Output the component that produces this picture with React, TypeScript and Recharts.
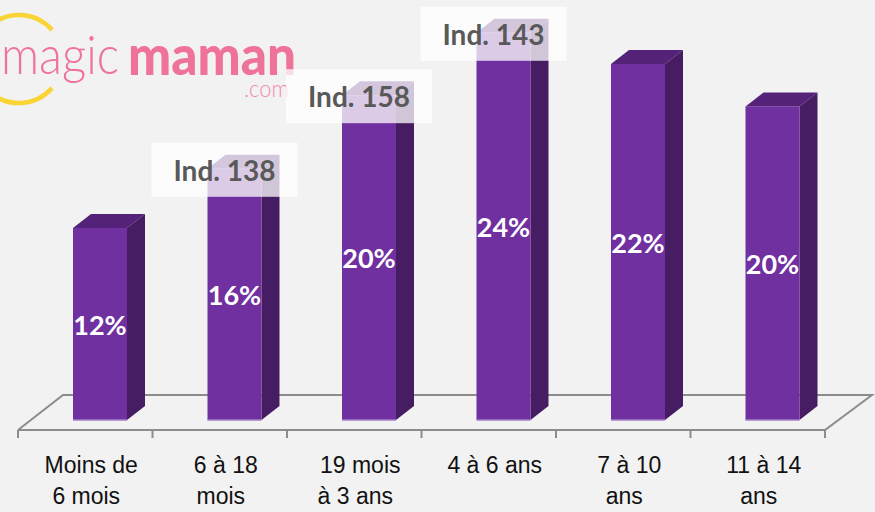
import React from "react";
import { BarChart, Bar, XAxis, YAxis, LabelList } from "recharts";

const labelLine1 = ["Moins de", "6 à 18", "19 mois", "4 à 6 ans", "7 à 10", "11 à 14"];
const labelLine2 = ["6 mois", "mois", "à 3 ans", "", "ans", "ans"];
const shares = [12, 15.7, 20.3, 24.2, 22.25, 19.6];
const shareLabels = ["12%", "16%", "20%", "24%", "22%", "20%"];
const indexLabels = ["", "Ind. 138", "Ind. 158", "Ind. 143", "", ""];

const data = labelLine1.map((l1, i) => ({
  cat: l1,
  l2: labelLine2[i],
  v: shares[i],
  pct: shareLabels[i],
  ind: indexLabels[i],
}));

const W = 875;
const H = 512;
const DX = 18;
const DY = 14;

const Box3D = (props: any) => {
  const { x, y, width, height } = props;
  if (height == null || width == null) return null;
  const x2 = x + width;
  const yb = y + height;
  return (
    <g>
      <polygon
        points={`${x},${y} ${x + DX},${y - DY} ${x2 + DX},${y - DY} ${x2},${y}`}
        fill="#542379"
      />
      <polygon
        points={`${x2},${y} ${x2 + DX},${y - DY} ${x2 + DX},${yb - DY} ${x2},${yb}`}
        fill="#461c63"
      />
      <rect x={x} y={y} width={width} height={height} fill="#7030a0" />
      <line x1={x} y1={yb} x2={x2} y2={yb} stroke="#a27fc4" strokeWidth={1.5} />
    </g>
  );
};

const PctLabel = (props: any) => {
  const { x, y, width, height, value } = props;
  return (
    <text
      x={x + width / 2}
      y={y + height / 2}
      textAnchor="middle"
      dominantBaseline="central"
      fill="#ffffff"
      fontFamily="Lato, 'Open Sans', sans-serif"
      fontWeight={700}
      fontSize={27}
    >
      {value}
    </text>
  );
};

const IndLabel = (props: any) => {
  const { x, y, width, value } = props;
  if (!value) return null;
  const cx = x + width / 2 - 10;
  const cy = y + 1;
  return (
    <g>
      <rect x={cx - 73} y={cy - 27} width={146} height={54} fill="#ffffff" fillOpacity={0.75} />
      <text
        x={cx}
        y={cy}
        textAnchor="middle"
        dominantBaseline="central"
        fill="#595959"
        fontFamily="Lato, 'Open Sans', sans-serif"
        fontWeight={700}
        fontSize={28}
      >
        {value}
      </text>
    </g>
  );
};

const CatTick = (props: any) => {
  const { x, y, payload, index } = props;
  const cx = x - 14;
  return (
    <g>
      <text
        x={cx + 5}
        y={y + 53}
        textAnchor="middle"
        fill="#111111"
        fontFamily="'Liberation Sans', Arial, sans-serif"
        fontSize={23}
      >
        {payload.value}
      </text>
      <text
        x={cx}
        y={y + 84}
        textAnchor="middle"
        fill="#111111"
        fontFamily="'Liberation Sans', Arial, sans-serif"
        fontSize={23}
      >
        {labelLine2[index]}
      </text>
    </g>
  );
};

const Floor = () => {
  const fl = 18;
  const fr = 825;
  const fy = 430;
  const bx = 45;
  const by = 35;
  const step = (fr - fl) / 6;
  const ticks = [0, 1, 2, 3, 4, 5, 6].map((i) => fl + i * step);
  return (
    <svg width={W} height={H} style={{ position: "absolute", left: 0, top: 0 }}>
      <rect x={0} y={0} width={W} height={H} fill="#f2f2f2" />
      {/* logo */}
      <path d="M 52 30 A 44 44 0 1 0 52 88" fill="none" stroke="#f9d434" strokeWidth={4.5} />
      <text
        x={1}
        y={74}
        fill="#ef7399"
        fontFamily="Lato, 'Open Sans', sans-serif"
        fontWeight={300}
        fontSize={54}
        textLength={118}
        lengthAdjust="spacingAndGlyphs"
      >
        magic
      </text>
      <text
        x={128}
        y={75}
        fill="#ef7399"
        fontFamily="Lato, 'Open Sans', sans-serif"
        fontWeight={900}
        fontSize={56}
        textLength={168}
        lengthAdjust="spacingAndGlyphs"
      >
        maman
      </text>
      <text
        x={244}
        y={97}
        fill="#f28aab"
        fontFamily="Lato, 'Open Sans', sans-serif"
        fontWeight={300}
        fontSize={23}
        textLength={45}
        lengthAdjust="spacingAndGlyphs"
      >
        .com
      </text>
      {/* floor */}
      <polyline
        points={`${fl},${fy} ${fl + bx},${fy - by} ${fr + bx + 2},${fy - by} ${fr},${fy} ${fl},${fy}`}
        fill="none"
        stroke="#8c8c8c"
        strokeWidth={2}
      />
      {ticks.map((t, i) => (
        <line key={i} x1={t} y1={fy} x2={t} y2={fy + 8} stroke="#8c8c8c" strokeWidth={2} />
      ))}
    </svg>
  );
};

export default function App() {
  return (
    <div style={{ position: "absolute", left: 0, top: 0, width: W, height: H, background: "#f2f2f2" }}>
      <Floor />
      <div style={{ position: "absolute", left: 0, top: 0 }}>
        <BarChart
          width={W}
          height={H}
          data={data}
          margin={{ top: 20, right: 35, left: 33, bottom: 32 }}
        >
          <XAxis
            dataKey="cat"
            axisLine={false}
            tickLine={false}
            tickSize={0}
            tickMargin={0}
            height={60}
            interval={0}
            tick={<CatTick />}
          />
          <YAxis hide domain={[0, 25]} />
          <Bar dataKey="v" barSize={54} shape={<Box3D />} isAnimationActive={false}>
            <LabelList dataKey="pct" content={<PctLabel />} />
            <LabelList dataKey="ind" content={<IndLabel />} />
          </Bar>
        </BarChart>
      </div>
    </div>
  );
}
